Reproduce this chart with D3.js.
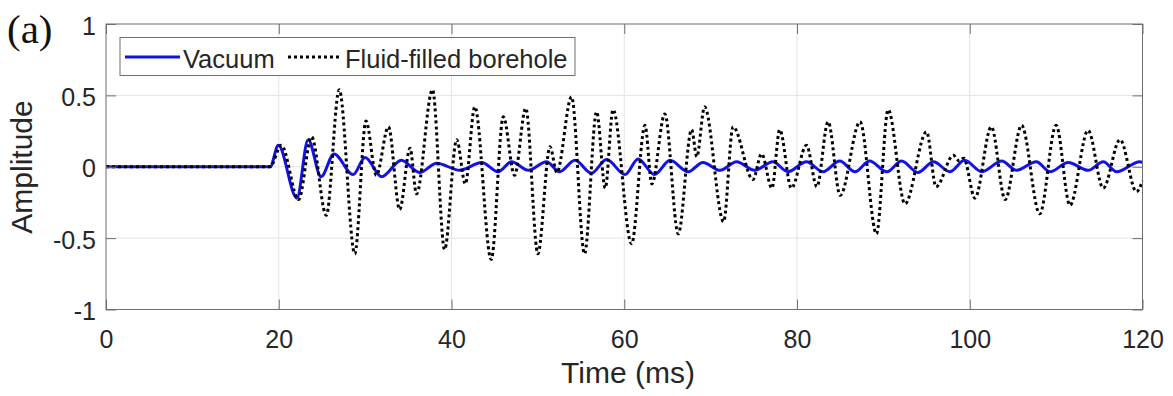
<!DOCTYPE html>
<html><head><meta charset="utf-8">
<script src="https://cdn.jsdelivr.net/npm/d3@7"></script>
<style>body{margin:0;background:#fff}svg{display:block}</style>
</head><body>
<svg id="c" width="1173" height="396"></svg>
<script>
// ---------- data ----------
const xTicks = [0, 20, 40, 60, 80, 100, 120];
const yTicks = [-1, -0.5, 0, 0.5, 1];
const yTickLabels = ["-1", "-0.5", "0", "0.5", "1"];
const seriesNames = ["Vacuum", "Fluid-filled borehole"];

// Vacuum (blue, solid) — turning points
const vacuumTime = [0, 19.0, 19.95, 22.1, 23.4, 24.9, 26.4, 28.6, 30.0, 31.9, 34.2, 36.3, 38.3, 40.95, 43.5, 45.4, 46.95, 48.9, 51.0, 52.5, 54.3, 56.2, 57.95, 60.1, 61.6, 63.5, 65.3, 67.4, 69.1, 71.1, 73.0, 75.1, 77.2, 78.95, 81.1, 83.0, 84.95, 86.7, 88.4, 90.4, 92.1, 94.0, 95.8, 97.7, 99.4, 101.4, 103.7, 105.4, 107.7, 109.3, 111.4, 113.7, 115.45, 117.0, 119.7, 120];
const vacuumAmp  = [0, 0, 0.15, -0.22, 0.19, -0.07, 0.09, -0.055, 0.065, -0.07, 0.045, -0.04, 0.025, -0.025, 0.03, -0.035, 0.035, -0.025, 0.035, -0.035, 0.045, -0.045, 0.05, -0.055, 0.055, -0.055, 0.045, -0.035, 0.03, -0.025, 0.035, -0.025, 0.035, -0.035, 0.035, -0.035, 0.04, -0.035, 0.04, -0.035, 0.04, -0.04, 0.035, -0.035, 0.045, -0.035, 0.04, -0.025, 0.035, -0.035, 0.03, -0.025, 0.035, -0.035, 0.035, 0.03];

// Fluid-filled borehole (black, dotted)
const boreholeTime = [0, 19.0, 20.3, 22.3, 23.8, 25.5, 27.0, 28.8, 30.1, 31.3, 32.7, 34.0, 35.2, 35.95, 37.8, 39.2, 40.6, 41.6, 42.7, 44.6, 46.0, 47.3, 48.6, 50.0, 51.4, 52.2, 53.9, 55.4, 56.8, 57.8, 58.7, 60.85, 62.4, 63.2, 64.7, 66.25, 67.8, 68.4, 69.3, 71.5, 72.6, 74.9, 75.9, 77.1, 78.0, 79.35, 81.1, 82.3, 83.6, 85.0, 87.3, 89.2, 90.55, 92.5, 95.0, 96.1, 98.1, 98.8, 99.3, 100.6, 102.5, 104.1, 106.0, 108.1, 110.0, 111.6, 113.7, 115.45, 117.4, 119.3, 120];
const boreholeAmp  = [0, 0, 0.15, -0.23, 0.21, -0.34, 0.54, -0.61, 0.32, -0.06, 0.28, -0.30, 0.13, -0.19, 0.54, -0.58, 0.19, -0.12, 0.42, -0.65, 0.35, -0.06, 0.41, -0.61, 0.14, -0.04, 0.49, -0.61, 0.385, -0.15, 0.40, -0.54, 0.29, -0.12, 0.37, -0.47, 0.26, 0.07, 0.42, -0.385, 0.28, -0.09, 0.09, -0.15, 0.26, -0.15, 0.15, -0.14, 0.315, -0.2, 0.315, -0.47, 0.40, -0.26, 0.245, -0.14, 0.08, 0.04, 0.06, -0.22, 0.28, -0.23, 0.29, -0.33, 0.29, -0.27, 0.255, -0.15, 0.19, -0.175, -0.1];

// ---------- layout ----------
const svg = d3.select("#c");
const L = 106, R = 1142.5, T = 24, B = 309.5;
const x = d3.scaleLinear().domain([0, 120]).range([L, R]);
const y = d3.scaleLinear().domain([-1, 1]).range([B, T]);
const axisCol = "#6e6e6e", textCol = "#262626";
const font = "'Liberation Sans', Arial, Helvetica, sans-serif";

// grid
const g = svg.append("g");
g.selectAll(".gx").data(xTicks.slice(1, -1)).join("line")
  .attr("x1", d => x(d)).attr("x2", d => x(d)).attr("y1", T).attr("y2", B)
  .attr("stroke", "#e3e3e3").attr("stroke-width", 1);
g.selectAll(".gy").data(yTicks.slice(1, -1)).join("line")
  .attr("y1", d => y(d)).attr("y2", d => y(d)).attr("x1", L).attr("x2", R)
  .attr("stroke", "#e3e3e3").attr("stroke-width", 1);

// series
const pts = (ts, vs) => ts.map((t, i) => [t, vs[i]]);
const line = d3.line().x(d => x(d[0])).y(d => y(d[1])).curve(d3.curveMonotoneX);
svg.append("path").datum(pts(vacuumTime, vacuumAmp))
  .attr("d", line).attr("fill", "none").attr("stroke", "#1212e6").attr("stroke-width", 3);
svg.append("path").datum(pts(boreholeTime, boreholeAmp))
  .attr("d", line).attr("fill", "none").attr("stroke", "#000").attr("stroke-width", 3)
  .attr("stroke-dasharray", "3,3");

// axes
function styleAxis(sel) {
  sel.select(".domain").remove();
  sel.selectAll(".tick line").attr("stroke", axisCol);
  sel.selectAll(".tick text").attr("fill", textCol).style("font-family", font).style("font-size", "25px");
}
const xa = svg.append("g").attr("transform", `translate(0,${B})`)
  .call(d3.axisBottom(x).tickValues(xTicks).tickFormat(d3.format("d")).tickSizeInner(-10).tickSizeOuter(0).tickPadding(21));
styleAxis(xa);
const xt = svg.append("g").attr("transform", `translate(0,${T})`)
  .call(d3.axisTop(x).tickValues(xTicks).tickFormat("").tickSizeInner(-10).tickSizeOuter(0));
styleAxis(xt);
const ya = svg.append("g").attr("transform", `translate(${L},0)`)
  .call(d3.axisLeft(y).tickValues(yTicks).tickFormat((d, i) => yTickLabels[i]).tickSizeInner(-10).tickSizeOuter(0).tickPadding(10));
styleAxis(ya);
ya.selectAll(".tick text").attr("dy", "0.4em");
const yr = svg.append("g").attr("transform", `translate(${R},0)`)
  .call(d3.axisRight(y).tickValues(yTicks).tickFormat("").tickSizeInner(-10).tickSizeOuter(0));
styleAxis(yr);

// frame
svg.append("rect").attr("x", L).attr("y", T).attr("width", R - L).attr("height", B - T)
  .attr("fill", "none").attr("stroke", axisCol).attr("stroke-width", 1);

// axis labels
svg.append("text").attr("x", 628).attr("y", 383).attr("text-anchor", "middle")
  .attr("fill", textCol).style("font-family", font).style("font-size", "30px").text("Time (ms)");
svg.append("text").attr("transform", "translate(32,167) rotate(-90)").attr("text-anchor", "middle")
  .attr("fill", textCol).style("font-family", font).style("font-size", "30px").text("Amplitude");

// panel tag
svg.append("text").attr("x", 7).attr("y", 43).attr("fill", "#111")
  .style("font-family", "'Liberation Serif', 'Times New Roman', serif").style("font-size", "41px").text("(a)");

// legend
const lg = svg.append("g");
lg.append("rect").attr("x", 120).attr("y", 37.5).attr("width", 455).attr("height", 38)
  .attr("fill", "#fff").attr("stroke", axisCol).attr("stroke-width", 1);
lg.append("line").attr("x1", 125).attr("x2", 180).attr("y1", 57).attr("y2", 57)
  .attr("stroke", "#1212e6").attr("stroke-width", 3);
lg.append("text").attr("x", 183).attr("y", 67.5).attr("fill", textCol)
  .style("font-family", font).style("font-size", "25.5px").text(seriesNames[0]);
lg.append("line").attr("x1", 288).attr("x2", 339).attr("y1", 57).attr("y2", 57)
  .attr("stroke", "#000").attr("stroke-width", 3).attr("stroke-dasharray", "3,3");
lg.append("text").attr("x", 345).attr("y", 67.5).attr("fill", textCol)
  .style("font-family", font).style("font-size", "25.5px").text(seriesNames[1]);
</script>
</body></html>
